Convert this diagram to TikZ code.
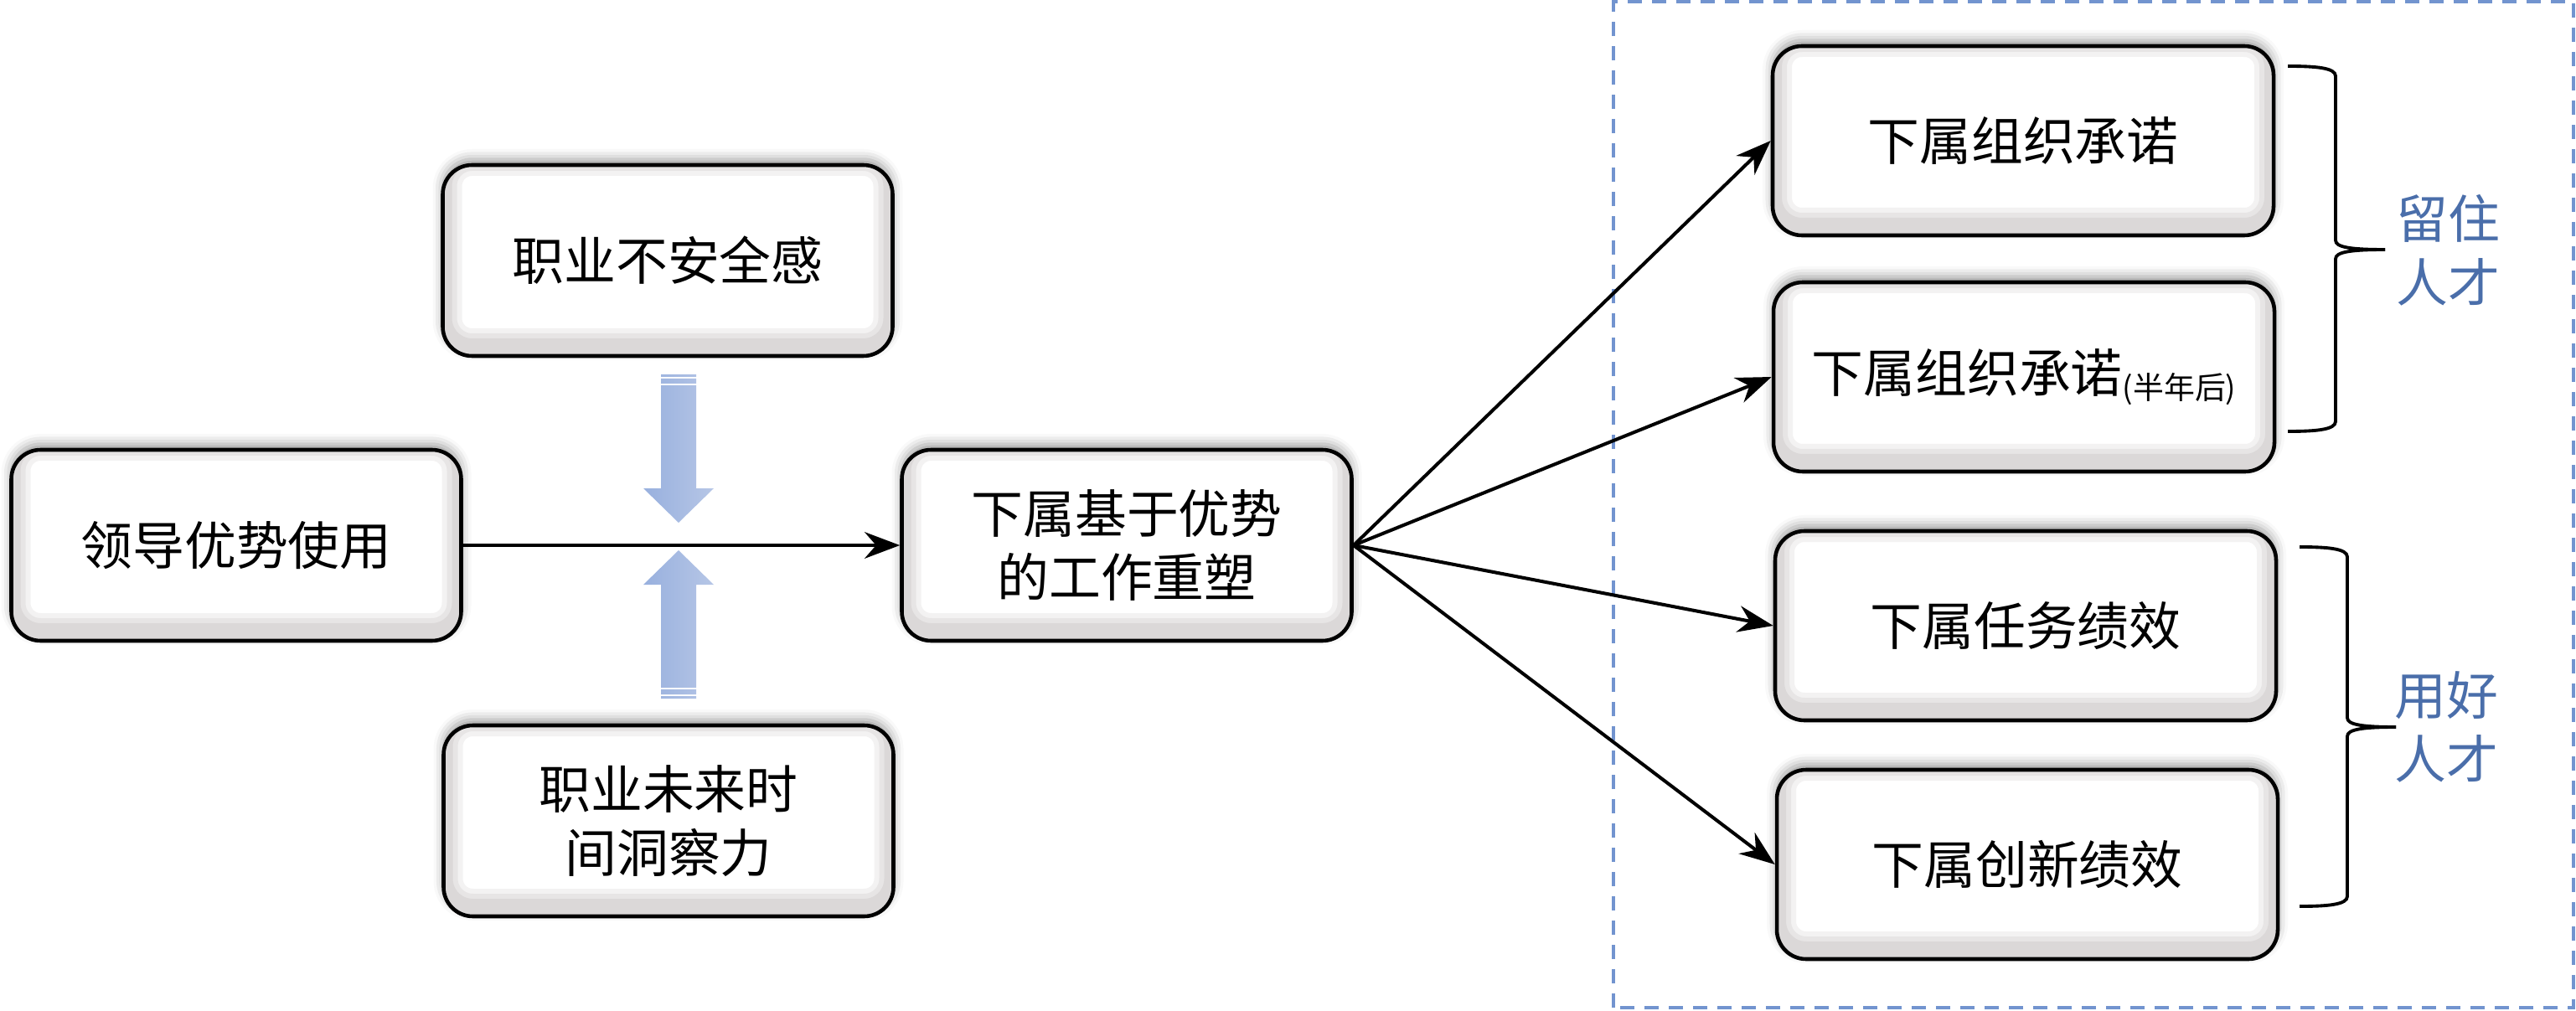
\documentclass[tikz,border=0pt]{standalone}
\usepackage{fontspec}
\newfontfamily\cjk{Noto Sans CJK SC}
\usetikzlibrary{arrows.meta,shadows.blur}

\definecolor{shadowgray}{RGB}{192,187,187}
\definecolor{arrowleft}{RGB}{152,176,222}
\definecolor{arrowright}{RGB}{182,198,230}
\definecolor{framecol}{RGB}{114,148,207}
\definecolor{talentcol}{RGB}{74,110,170}

\tikzset{
  box/.style={draw, line width=1.3pt, rounded corners=0.35cm, fill=white,
    minimum width=5.37cm, minimum height=2.28cm, align=center, inner sep=0pt,
    font=\cjk\fontsize{17.6pt}{21.5pt}\selectfont,
    blur shadow={shadow xshift=0cm, shadow yshift=0.07cm,
      shadow blur radius=0.12cm, shadow opacity=40},
    path picture={
      \foreach \w/\o in {0.46/0.18,0.34/0.22,0.22/0.3}{
        \draw[line width=\w cm, draw=shadowgray, opacity=\o, rounded corners=0.35cm]
          ([yshift=0.1cm]path picture bounding box.south west)
          rectangle ([yshift=0.1cm]path picture bounding box.north east);
      }
    }},
  outbox/.style={box, minimum width=5.98cm, minimum height=2.26cm},
  arr/.style={-{Stealth[length=12pt,width=9pt]}, line width=1.15pt},
  brace/.style={line width=1.1pt},
  talent/.style={align=center, text=talentcol, inner sep=0pt,
    font=\cjk\fontsize{17.6pt}{21.5pt}\selectfont},
  frame/.style={draw=framecol, line width=1.2pt, dash pattern=on 0.17cm off 0.12cm}
}

\begin{document}
\begin{tikzpicture}
  \useasboundingbox (0,0) rectangle (30.75,12.06);

  % dashed frame round the outcomes
  \draw[frame] (19.26,0.03) rectangle (30.72,12.04);

  % left part
  \node[box] (lead) at (2.82,5.55) {领导优势使用};
  \node[box] (insec) at (7.97,8.95) {职业不安全感};
  \node[box] (ftp) at (7.98,2.26) {职业未来时\\间洞察力};
  \node[box] (reshape) at (13.45,5.55) {下属基于优势\\的工作重塑};

  \draw[arr] (lead) -- (reshape);

  % moderating block arrows
  \foreach \s in {1,-1}{
    \begin{scope}[shift={(8.10,5.655)},yscale=\s]
      \shade[left color=arrowleft, right color=arrowright]
        (0,0.165) -- (0.42,0.575) -- (0.21,0.575) -- (0.21,1.805)
        -- (-0.21,1.805) -- (-0.21,0.575) -- (-0.42,0.575) -- cycle
        (-0.21,1.825) rectangle (0.21,1.885)
        (-0.21,1.905) rectangle (0.21,1.935);
    \end{scope}
  }

  % outcomes
  \node[outbox] (commit) at (24.15,10.38) {下属组织承诺};
  \node[outbox] (commitlate) at (24.16,7.56)
    {下属组织承诺\raisebox{-0.25ex}{\fontsize{10.5pt}{12pt}\selectfont (半年后)}};
  \node[outbox] (task) at (24.18,4.59) {下属任务绩效};
  \node[outbox] (innov) at (24.20,1.74) {下属创新绩效};

  \foreach \t in {commit,commitlate,task,innov}
    \draw[arr] (reshape.east) -- (\t.west);

  % braces
  \draw[brace] (27.31,11.27) .. controls (27.65,11.27) and (27.88,11.25) .. (27.88,11.15)
    -- (27.88,9.19) .. controls (27.88,9.11) and (28.05,9.08) .. (28.47,9.08);
  \draw[brace] (27.31,6.91) .. controls (27.65,6.91) and (27.88,6.93) .. (27.88,7.03)
    -- (27.88,8.97) .. controls (27.88,9.05) and (28.05,9.08) .. (28.47,9.08);

  \draw[brace] (27.45,5.53) .. controls (27.79,5.53) and (28.02,5.51) .. (28.02,5.41)
    -- (28.02,3.49) .. controls (28.02,3.41) and (28.19,3.38) .. (28.60,3.38);
  \draw[brace] (27.45,1.24) .. controls (27.79,1.24) and (28.02,1.26) .. (28.02,1.36)
    -- (28.02,3.27) .. controls (28.02,3.35) and (28.19,3.38) .. (28.60,3.38);

  \node[talent] (keep) at (29.22,9.07) {留住\\人才};
  \node[talent] (use) at (29.20,3.38) {用好\\人才};
\end{tikzpicture}
\end{document}
